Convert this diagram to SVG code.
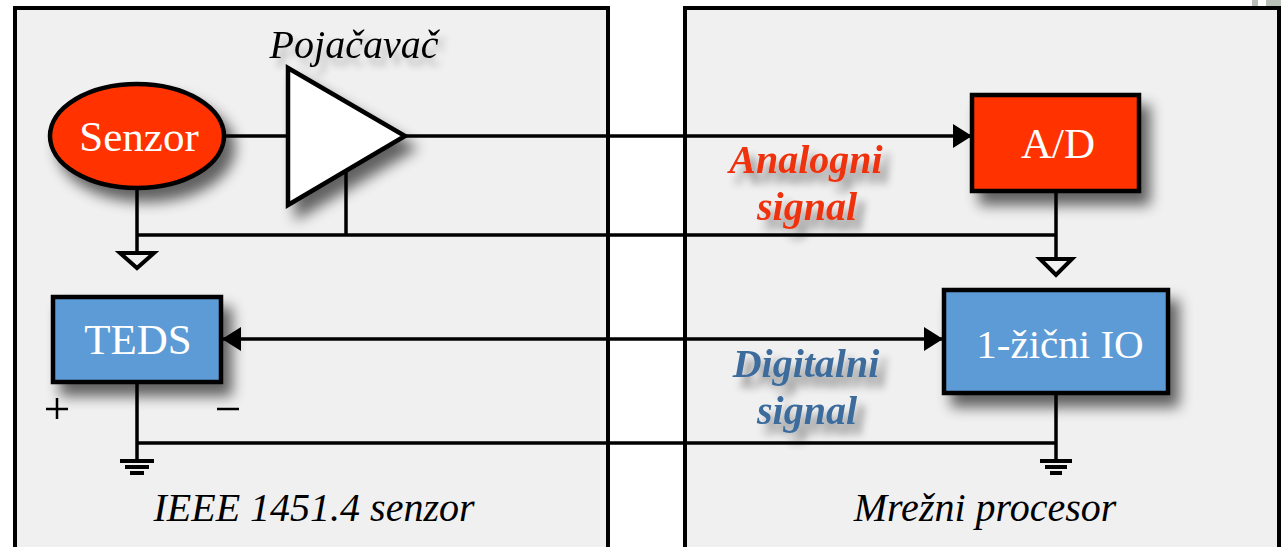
<svg xmlns="http://www.w3.org/2000/svg" width="1281" height="547" viewBox="0 0 1281 547">
<defs>
<filter id="sh" x="-30%" y="-30%" width="170%" height="170%"><feGaussianBlur in="SourceAlpha" stdDeviation="7"/><feOffset dx="9" dy="12"/><feComponentTransfer><feFuncA type="linear" slope="0.6"/></feComponentTransfer><feMerge><feMergeNode/><feMergeNode in="SourceGraphic"/></feMerge></filter>
<filter id="ts" x="-30%" y="-40%" width="170%" height="190%"><feGaussianBlur in="SourceAlpha" stdDeviation="4"/><feOffset dx="7" dy="10"/><feComponentTransfer><feFuncA type="linear" slope="0.45"/></feComponentTransfer><feMerge><feMergeNode/><feMergeNode in="SourceGraphic"/></feMerge></filter>
<filter id="tk" x="-20%" y="-40%" width="150%" height="190%"><feGaussianBlur in="SourceAlpha" stdDeviation="3.5"/><feOffset dx="6" dy="8"/><feComponentTransfer><feFuncA type="linear" slope="0.25"/></feComponentTransfer><feMerge><feMergeNode/><feMergeNode in="SourceGraphic"/></feMerge></filter>
<marker id="ah" markerUnits="userSpaceOnUse" markerWidth="20" markerHeight="24" refX="19" refY="12" orient="auto-start-reverse"><path d="M0 0L19 12L0 24Z" fill="#000"/></marker>
</defs>
<style>
.panel{fill:#f0f0f0;stroke:#000;stroke-width:4}
.ln{fill:none;stroke:#000;stroke-width:3.5}
.gnd{fill:none;stroke:#000;stroke-width:4}
.node{stroke:#000;stroke-width:4.5}
.red{fill:#ff3300}.blue{fill:#5b9bd5}
text{font-family:"Liberation Serif","Times New Roman",serif}
.w{fill:#fff;font-size:43px;text-anchor:middle}
.k{fill:#000;font-size:40px;font-style:italic;text-anchor:middle}
.lab{font-size:40px;font-style:italic;font-weight:bold;text-anchor:middle}
</style>
<rect width="1281" height="547" fill="#fff"/>
<rect x="1252" y="0" width="29" height="8" fill="#b8c0b8"/><rect x="1258" y="0" width="8" height="8" fill="#fff"/>
<g id="panel-sensor"><rect class="panel" x="15" y="8" width="593" height="545"/></g>
<g id="panel-processor"><rect class="panel" x="685" y="8" width="594" height="545"/></g>
<g id="connectors">
<path class="ln" d="M224 136H290"/>
<path class="ln" d="M405 136H972" marker-end="url(#ah)"/>
<path class="ln" d="M137 188V255"/>
<path class="ln" d="M137 235H1056"/>
<path class="ln" d="M346 170V236"/>
<path class="ln" d="M1056 192V259"/>
<path class="ln" d="M222 339H943" marker-start="url(#ah)" marker-end="url(#ah)"/>
<path class="ln" d="M137 380V461"/>
<path class="ln" d="M137 443H1056"/>
<path class="ln" d="M1056 393V461"/>
<path class="gnd" d="M120 253H154L137 268Z"/>
<path class="gnd" d="M1040 259H1072L1056 275Z"/>
<path class="gnd" d="M120 461H154M125 467H149M130 473H144"/>
<path class="gnd" d="M1040 461H1072M1045 467H1067M1050 473H1062"/>
</g>
<g id="senzor"><ellipse class="node red" cx="137" cy="136" rx="87" ry="52" filter="url(#sh)"/><text class="w" x="139" y="151">Senzor</text></g>
<g id="pojacavac"><path class="node" d="M288 68L405 136L288 205Z" fill="#fff" filter="url(#sh)"/><text class="k" x="354" y="58" filter="url(#tk)">Pojačavač</text></g>
<g id="ad"><rect class="node red" x="972" y="95" width="167" height="96" filter="url(#sh)"/><text class="w" x="1058" y="158">A/D</text></g>
<g id="teds"><rect class="node blue" x="53" y="297" width="168" height="85" filter="url(#sh)"/><text class="w" x="138" y="354">TEDS</text></g>
<g id="io"><rect class="node blue" x="944" y="290" width="224" height="103" filter="url(#sh)"/><text class="w" x="1060" y="358" style="font-size:41px">1-žični IO</text></g>
<g id="polarity"><path d="M57 398V419M46 409H68M217 409H239" stroke="#000" stroke-width="2.5" fill="none"/></g>
<g id="labels">
<text class="lab" x="806" y="173" fill="#ee3311" filter="url(#ts)">Analogni</text>
<text class="lab" x="807" y="220" fill="#ee3311" filter="url(#ts)">signal</text>
<text class="lab" x="806" y="377" fill="#3c6c9c" filter="url(#ts)">Digitalni</text>
<text class="lab" x="807" y="424" fill="#3c6c9c" filter="url(#ts)">signal</text>
<text class="k" x="314" y="521">IEEE 1451.4 senzor</text>
<text class="k" x="985" y="521">Mrežni procesor</text>
</g>
</svg>
